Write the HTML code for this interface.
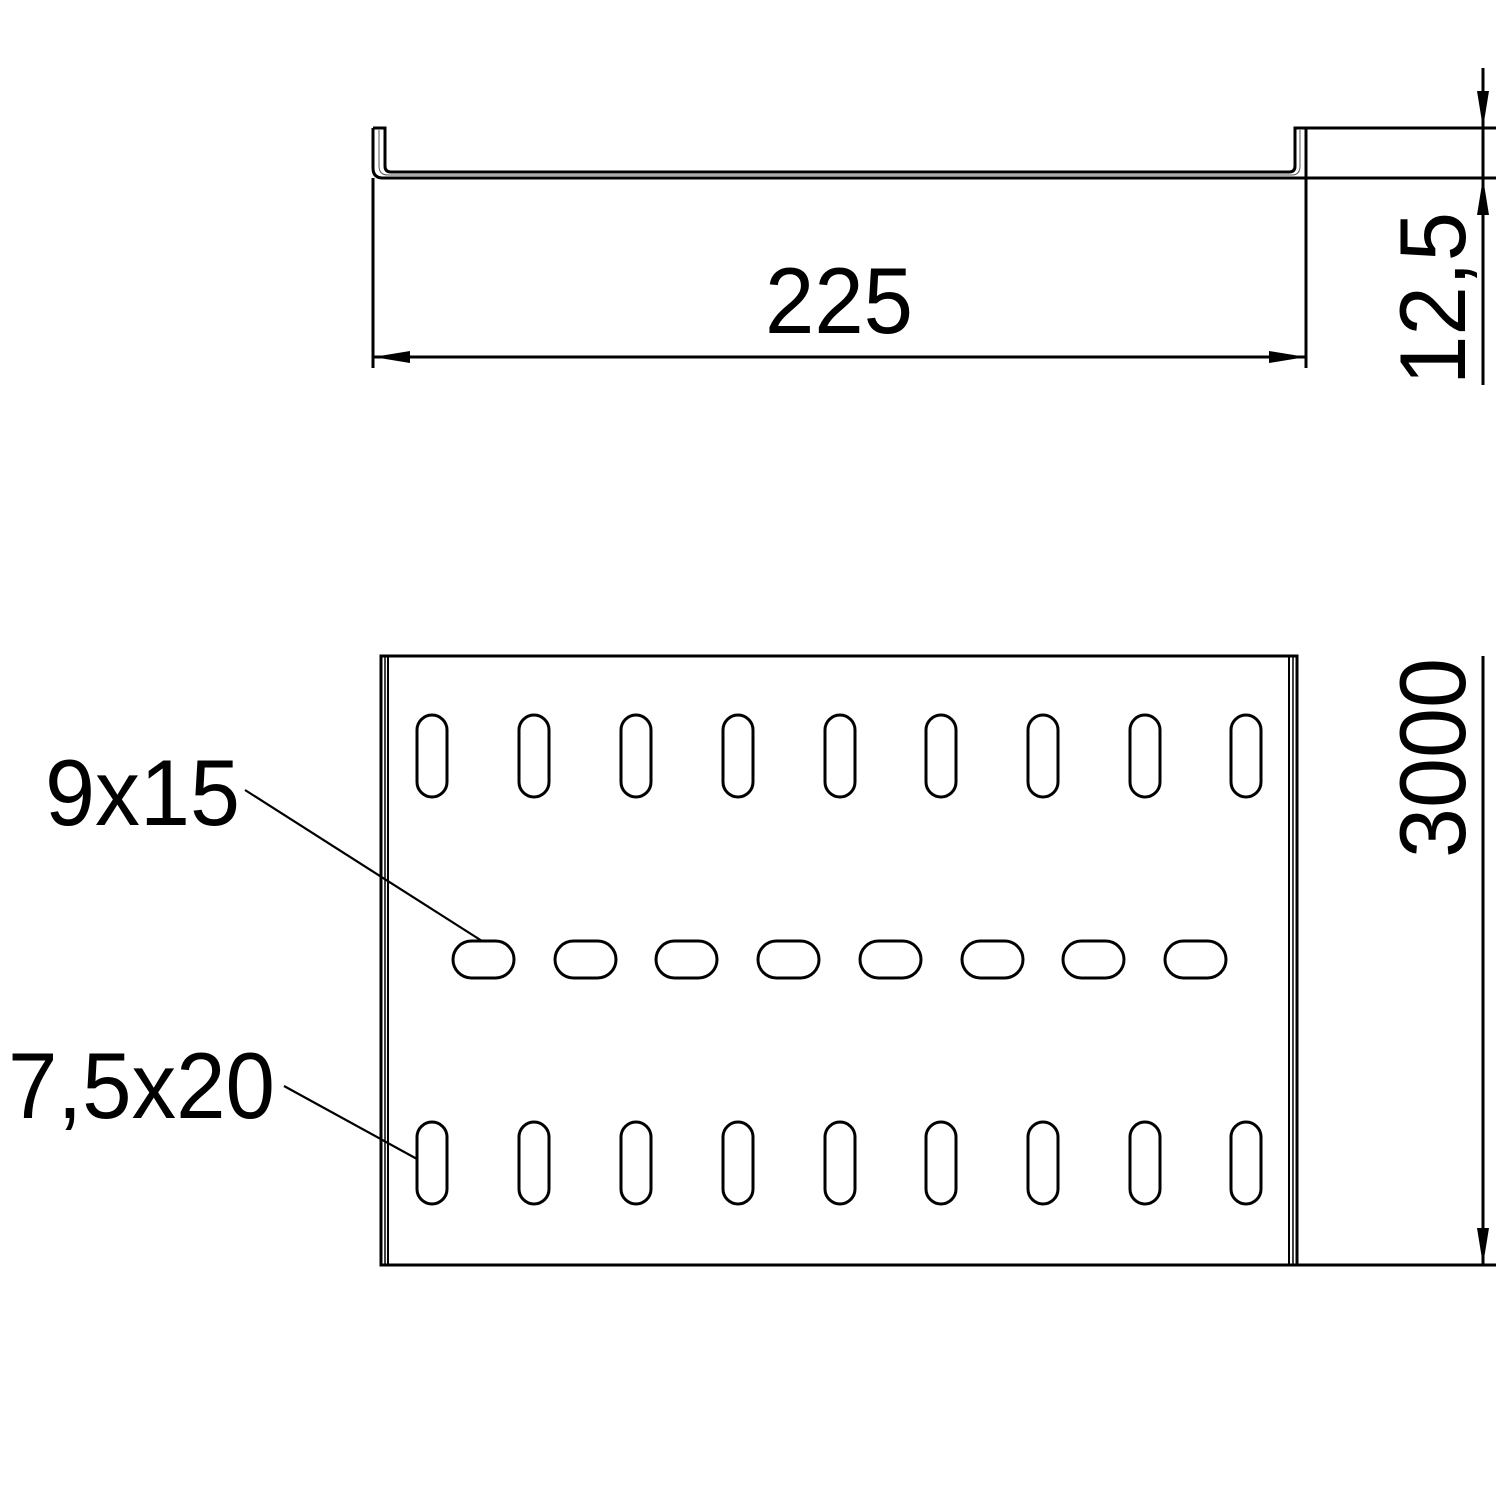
<!DOCTYPE html>
<html><head><meta charset="utf-8"><style>html,body{margin:0;padding:0;background:#fff}svg{display:block}</style></head>
<body>
<svg width="1500" height="1500" viewBox="0 0 1500 1500" xmlns="http://www.w3.org/2000/svg">
<g fill="none" stroke="#000" stroke-width="3">
<path d="M373,128 H385 V166 Q385,172 391,172 H1289 Q1295,172 1295,166 V128 H1306 V178"/>
<path d="M373,128 V168 Q373,178 383,178 H1306"/>
<path d="M379,130 V166 Q379,175 388,175 H1292 Q1300,175 1300,166 V130" stroke-width="1" stroke="#555"/>
<line x1="373" y1="178" x2="373" y2="368"/>
<line x1="1306" y1="178" x2="1306" y2="368"/>
<line x1="1306" y1="128" x2="1496" y2="128"/>
<line x1="1306" y1="178" x2="1496" y2="178"/>
<line x1="373" y1="357" x2="1306" y2="357"/>
<line x1="1483" y1="68" x2="1483" y2="385"/>
<rect x="381" y="656" width="916" height="609"/>
<line x1="385" y1="656" x2="385" y2="1265" stroke-width="1.5"/>
<line x1="388" y1="656" x2="388" y2="1265" stroke-width="2"/>
<line x1="1289" y1="656" x2="1289" y2="1265" stroke-width="2"/>
<line x1="1293" y1="656" x2="1293" y2="1265" stroke-width="1.5"/>
<line x1="1297" y1="1265" x2="1496" y2="1265"/>
<line x1="1483" y1="656" x2="1483" y2="1265"/>
<line x1="245" y1="790" x2="482" y2="941" stroke-width="2.2"/>
<line x1="284" y1="1086" x2="417" y2="1159" stroke-width="2.2"/>
</g>
<g fill="#000">
<polygon points="373,357 410,351 410,363"/>
<polygon points="1306,357 1269,351 1269,363"/>
<polygon points="1483,128 1477,91 1489,91"/>
<polygon points="1483,178 1477,215 1489,215"/>
<polygon points="1483,1265 1477,1228 1489,1228"/>
</g>
<g fill="none" stroke="#000" stroke-width="3">
<rect x="417" y="715" width="30" height="82" rx="15"/>
<rect x="519" y="715" width="30" height="82" rx="15"/>
<rect x="621" y="715" width="30" height="82" rx="15"/>
<rect x="723" y="715" width="30" height="82" rx="15"/>
<rect x="825" y="715" width="30" height="82" rx="15"/>
<rect x="926" y="715" width="30" height="82" rx="15"/>
<rect x="1028" y="715" width="30" height="82" rx="15"/>
<rect x="1130" y="715" width="30" height="82" rx="15"/>
<rect x="1231" y="715" width="30" height="82" rx="15"/>
<rect x="417" y="1122" width="30" height="82" rx="15"/>
<rect x="519" y="1122" width="30" height="82" rx="15"/>
<rect x="621" y="1122" width="30" height="82" rx="15"/>
<rect x="723" y="1122" width="30" height="82" rx="15"/>
<rect x="825" y="1122" width="30" height="82" rx="15"/>
<rect x="926" y="1122" width="30" height="82" rx="15"/>
<rect x="1028" y="1122" width="30" height="82" rx="15"/>
<rect x="1130" y="1122" width="30" height="82" rx="15"/>
<rect x="1231" y="1122" width="30" height="82" rx="15"/>
<rect x="453" y="941" width="61" height="37" rx="18.5"/>
<rect x="555" y="941" width="61" height="37" rx="18.5"/>
<rect x="656" y="941" width="61" height="37" rx="18.5"/>
<rect x="758" y="941" width="61" height="37" rx="18.5"/>
<rect x="860" y="941" width="61" height="37" rx="18.5"/>
<rect x="962" y="941" width="61" height="37" rx="18.5"/>
<rect x="1063" y="941" width="61" height="37" rx="18.5"/>
<rect x="1165" y="941" width="61" height="37" rx="18.5"/>
</g>
<g font-family="Liberation Sans, sans-serif" font-size="94" fill="#000">
<text x="765" y="333" textLength="148" lengthAdjust="spacingAndGlyphs">225</text>
<text x="45" y="825" textLength="195" lengthAdjust="spacingAndGlyphs">9x15</text>
<text x="8" y="1118" textLength="267" lengthAdjust="spacingAndGlyphs">7,5x20</text>
<text transform="translate(1465,385) rotate(-90)" textLength="173" lengthAdjust="spacingAndGlyphs">12,5</text>
<text transform="translate(1465,858) rotate(-90)" textLength="200" lengthAdjust="spacingAndGlyphs">3000</text>
</g>
</svg>
</body></html>
